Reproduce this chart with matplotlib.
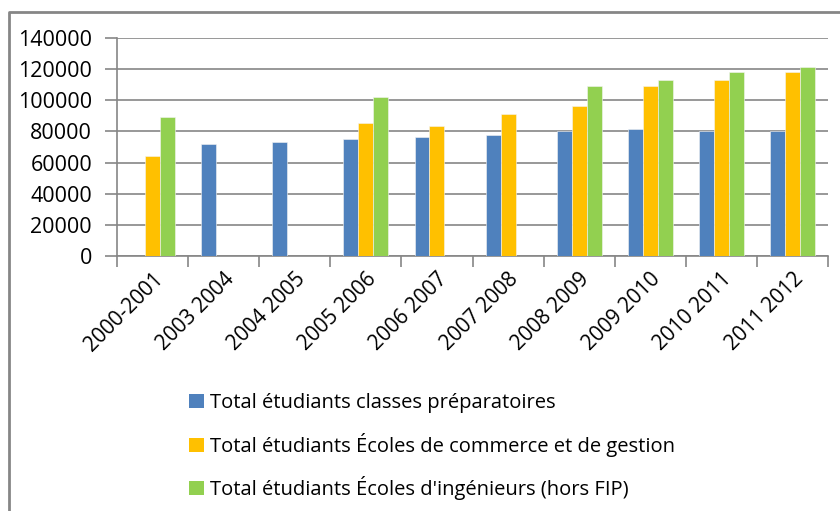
import numpy as np
from matplotlib import pyplot as plt
from matplotlib.patches import Patch

plt.rcParams['font.family'] = ['Open Sans', 'DejaVu Sans']

years = ["2000-2001", "2003 2004", "2004 2005", "2005 2006", "2006 2007",
         "2007 2008", "2008 2009", "2009 2010", "2010 2011", "2011 2012"]

prepa = [np.nan, 72000, 73500, 75000, 76500, 77800, 80400, 81500, 80400, 80400]
commerce = [64100, np.nan, np.nan, 85100, 83600, 90900, 96100, 109100, 112800, 117900]
ingenieurs = [89400, np.nan, np.nan, 101800, np.nan, np.nan, 109100, 112800, 117900, 121600]

series_names = ["Total étudiants classes préparatoires",
                "Total étudiants Écoles de commerce et de gestion",
                "Total étudiants Écoles d'ingénieurs (hors FIP)"]
colors = ["#4F81BD", "#FFC000", "#92D050"]

GRID = "#868686"
BAR_W = 0.21

fig = plt.figure(figsize=(8.4, 5.11), dpi=100)
ax = fig.add_axes([117 / 840, 1 - 256 / 511, 711 / 840, 218 / 511])

x = np.arange(len(years))
for i, (vals, col) in enumerate(zip([prepa, commerce, ingenieurs], colors)):
    ax.bar(x + (i - 1) * BAR_W, vals, BAR_W, color=col,
           edgecolor="#f4f4f4", linewidth=0.4, zorder=3)

ax.set_xlim(-0.5, len(years) - 0.5)
ax.set_ylim(0, 140000)
ax.set_yticks(range(0, 140001, 20000))
ax.yaxis.grid(True, color=GRID, linewidth=1.2, zorder=0)

for side in ("top", "right"):
    ax.spines[side].set_visible(False)
ax.spines["left"].set_color(GRID)
ax.spines["bottom"].set_color(GRID)
ax.spines["left"].set_linewidth(1.2)
ax.spines["bottom"].set_linewidth(1.2)

ax.tick_params(axis="y", length=9, width=1.2, color=GRID, pad=9,
               labelsize=15.5, labelcolor="#000000")

# category separators as minor ticks, labels on majors
ax.set_xticks(x)
ax.set_xticks(np.arange(-0.5, len(years)), minor=True)
ax.tick_params(axis="x", which="major", length=0, pad=9)
ax.tick_params(axis="x", which="minor", length=8, width=1.2, color=GRID)
ax.set_xticklabels(years, rotation=45, ha="right", va="top",
                   rotation_mode="anchor", fontsize=15)

handles = [Patch(facecolor=c, edgecolor="none") for c in colors]
fig.legend(handles, series_names, loc="upper left",
           bbox_to_anchor=(189 / 840, 1 - 393 / 511), frameon=False,
           fontsize=14.5, handlelength=0.75, handleheight=0.7,
           handletextpad=0.3, labelspacing=0.98, borderpad=0, borderaxespad=0)

# outer chart frame (top and left edges visible in the crop)
fig.add_artist(plt.Line2D([9 / 840, 9 / 840, 1.0], [0.0, 1 - 12 / 511, 1 - 12 / 511],
                          transform=fig.transFigure, color=GRID, linewidth=2))

fig.savefig("out.png", dpi=100, facecolor="white")
